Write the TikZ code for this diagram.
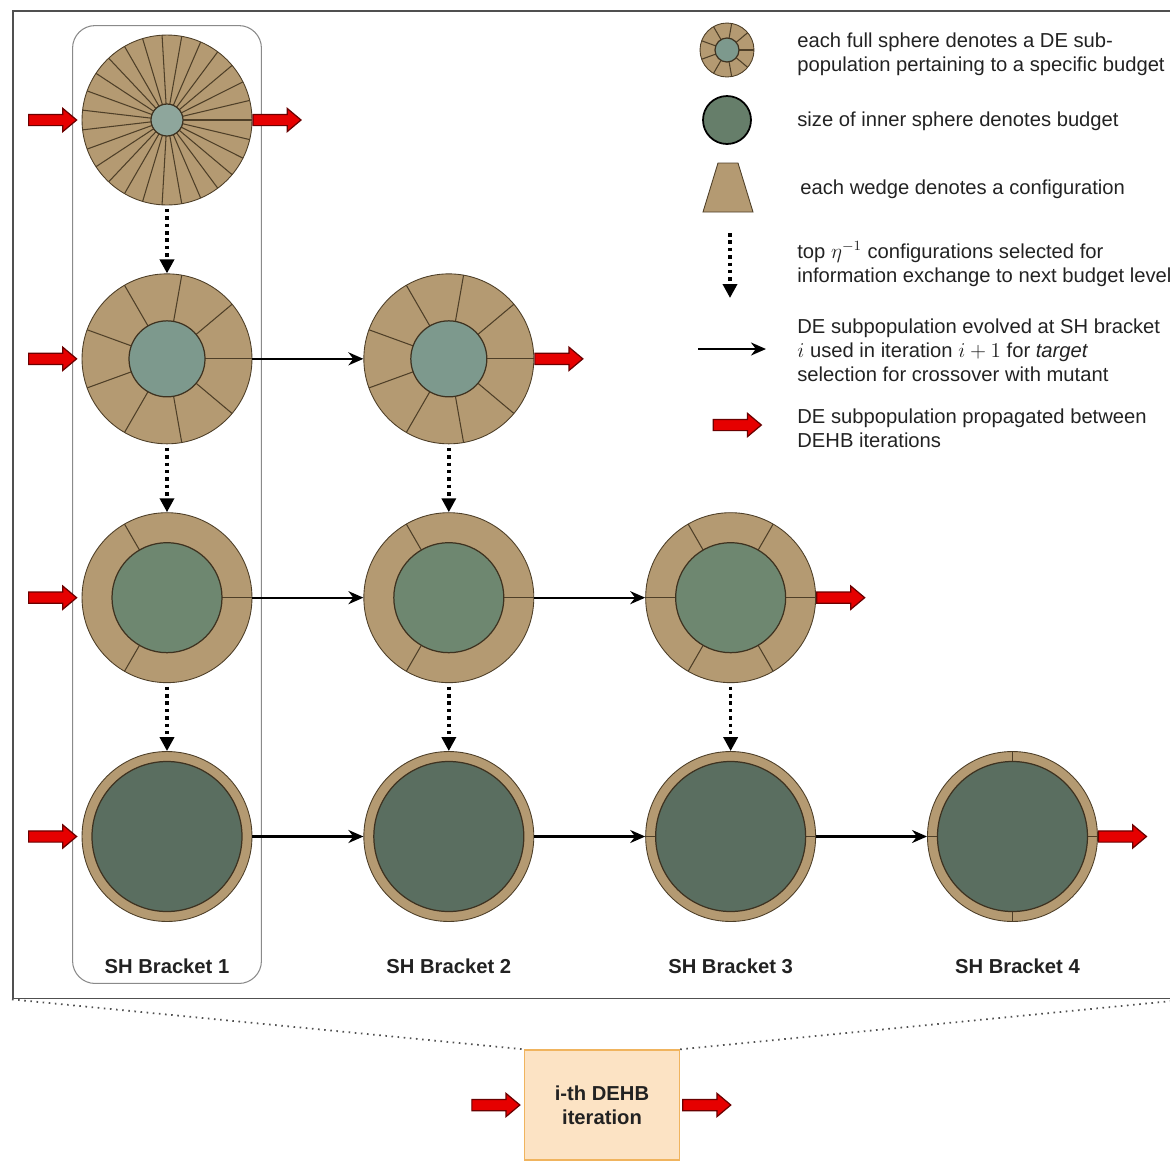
\documentclass[tikz,border=0pt]{standalone}
\usepackage{fontspec}
\setmainfont{Liberation Sans}
\usetikzlibrary{positioning,arrows.meta,shapes.geometric,shapes.arrows,fit}
\definecolor{Tan}{HTML}{B49A72}
\definecolor{Seam}{HTML}{4E3F28}
\definecolor{CoreA}{HTML}{8EA69C}
\definecolor{CoreB}{HTML}{7D998D}
\definecolor{CoreC}{HTML}{6E8770}
\definecolor{CoreD}{HTML}{5A6E60}
\definecolor{CoreL}{HTML}{667E6A}
\definecolor{ArrowRed}{HTML}{E60000}
\definecolor{ArrowEdge}{HTML}{6A0000}
\definecolor{Peach}{HTML}{FCE3C4}
\definecolor{PeachEdge}{HTML}{F0B45E}
\definecolor{Ink}{HTML}{222222}
\definecolor{Frame}{HTML}{505050}
\definecolor{Rim}{HTML}{8A8A8A}

\newcommand{\wedges}[5]{%
  \begin{scope}[shift={(#1.center)}]
    \ifnum#4>1
      \foreach \k in {1,...,#4}
        \draw[wedge] ({\k*360/#4}:#3) -- ({\k*360/#4}:#2);
    \fi
    \draw[core,fill=#5] (0,0) circle (#3);
  \end{scope}}

\begin{document}
\begin{tikzpicture}[x=0.02cm,y=-0.02cm,node distance=1.36cm and 2.22cm, every node/.style={font=\fontsize{11.5}{13.66}\selectfont,text=Ink}]
\tikzstyle{sphere}=[circle,draw=Seam,fill=Tan,line width=0.5pt,minimum size=3.4cm,inner sep=0pt]
\tikzstyle{wedge}=[draw=Seam,line width=0.6pt]
\tikzstyle{core}=[draw=Seam!80!black,line width=0.7pt]
\tikzstyle{flow}=[-{Stealth[length=3mm,width=2.6mm]},line width=1.3pt,black]
\tikzstyle{select}=[-{Triangle[length=2.8mm,width=2.8mm]},line width=2pt,dash pattern=on 2pt off 2.2pt,black]
\tikzstyle{redarr}=[single arrow,fill=ArrowRed,draw=ArrowEdge,line width=0.7pt,minimum height=0.96cm,single arrow head extend=0.12cm,single arrow tip angle=80,inner xsep=0pt,inner ysep=0.1cm]
\tikzstyle{bracket}=[font=\bfseries\fontsize{11.5}{13.66}\selectfont,inner sep=0pt]
\tikzstyle{legend}=[anchor=west,align=left,inner sep=0pt]
\tikzstyle{zoomline}=[draw=Frame,line width=1pt,dash pattern=on 0.9pt off 2.6pt]
\useasboundingbox (0,0) rectangle (1170,1161);
\node[draw=Frame,line width=0.9pt,minimum width=23.5cm,minimum height=19.76cm,anchor=north west] (frame) at (12,10) {};
\node[sphere] (s11) at (167,120) {};
\node[sphere,below=of s11] (s21) {};
\node[sphere,right=of s21] (s22) {};
\node[sphere,below=of s21] (s31) {};
\node[sphere,right=of s31] (s32) {};
\node[sphere,right=of s32] (s33) {};
\node[sphere,below=of s31] (s41) {};
\node[sphere,right=of s41] (s42) {};
\node[sphere,right=of s42] (s43) {};
\node[sphere,right=of s43] (s44) {};
\wedges{s11}{85}{16}{27}{CoreA}
\wedges{s21}{85}{38}{9}{CoreB}
\wedges{s22}{85}{38}{9}{CoreB}
\wedges{s31}{85}{55}{3}{CoreC}
\wedges{s32}{85}{55}{3}{CoreC}
\wedges{s33}{85}{55}{6}{CoreC}
\wedges{s41}{85}{75}{1}{CoreD}
\wedges{s42}{85}{75}{1}{CoreD}
\wedges{s43}{85}{75}{2}{CoreD}
\wedges{s44}{85}{75}{4}{CoreD}
\node[bracket,below=0.74cm of s41] (l1) {SH Bracket 1};
\node[bracket,below=0.74cm of s42] (l2) {SH Bracket 2};
\node[bracket,below=0.74cm of s43] (l3) {SH Bracket 3};
\node[bracket,below=0.74cm of s44,xshift=0.1cm] (l4) {SH Bracket 4};
\node[draw=Rim,rounded corners=0.45cm,line width=0.6pt,fit=(s11)(l1),inner sep=0.18cm] (b1) {};
\draw[flow] (s21) -- (s22);
\draw[flow] (s31) -- (s32);
\draw[flow] (s32) -- (s33);
\draw[flow] (s41) -- (s42);
\draw[flow] (s42) -- (s43);
\draw[flow] (s43) -- (s44);
\foreach \a/\b in {s11/s21,s21/s31,s31/s41,s22/s32,s32/s42,s33/s43}
  \draw[select] ([yshift=-2pt]\a.south) -- (\b.north);
\foreach \s in {s11,s21,s31,s41}
  \node[redarr,left=0.08cm of \s] (in\s) {};
\foreach \s in {s11,s22,s33,s44}
  \node[redarr,right=0pt of \s] (out\s) {};
\node[sphere,minimum size=1.08cm] (ls) at (727,50) {};
\wedges{ls}{27}{12}{9}{CoreB}
\node[circle,draw=black,fill=CoreL,line width=1pt,minimum size=0.96cm,inner sep=0pt] (lc) at (727,120) {};
\draw[draw=Seam,fill=Tan,line width=0.5pt] (718,163) -- (738,163) -- (753,212) -- (703,212) -- cycle;
\coordinate (ld1) at (730,233);
\coordinate (ld2) at (730,298);
\draw[select] (ld1) -- (ld2);
\coordinate (lf1) at (698,349);
\coordinate (lf2) at (766,349);
\draw[flow] (lf1) -- (lf2);
\node[redarr] (lr) at (734,425) {};
\node[legend] (t1) at (797,54) {each full sphere denotes a DE sub-\\population pertaining to a specific budget};
\node[legend] (t2) at (797,121) {size of inner sphere denotes budget};
\node[legend] (t3) at (800,189) {each wedge denotes a configuration};
\node[legend] (t4) at (797,264) {top $\eta^{-1}$ configurations selected for\\information exchange to next budget level};
\node[legend] (t5) at (797,350) {DE subpopulation evolved at SH bracket\\$i$ used in iteration $i+1$ for \textit{target}\\selection for crossover with mutant};
\node[legend] (t6) at (797,428) {DE subpopulation propagated between\\DEHB iterations};
\node[draw=PeachEdge,fill=Peach,line width=0.8pt,minimum width=3.1cm,minimum height=2.2cm,align=center,font=\bfseries\fontsize{11.5}{13.66}\selectfont] (iter) at (602,1105) {i-th DEHB\\iteration};
\node[redarr,left=0.06cm of iter] (iin) {};
\node[redarr,right=0.04cm of iter] (iout) {};
\draw[zoomline] (frame.south west) -- (iter.north west);
\draw[zoomline] (iter.north east) -- (frame.south east);
\end{tikzpicture}
\end{document}
